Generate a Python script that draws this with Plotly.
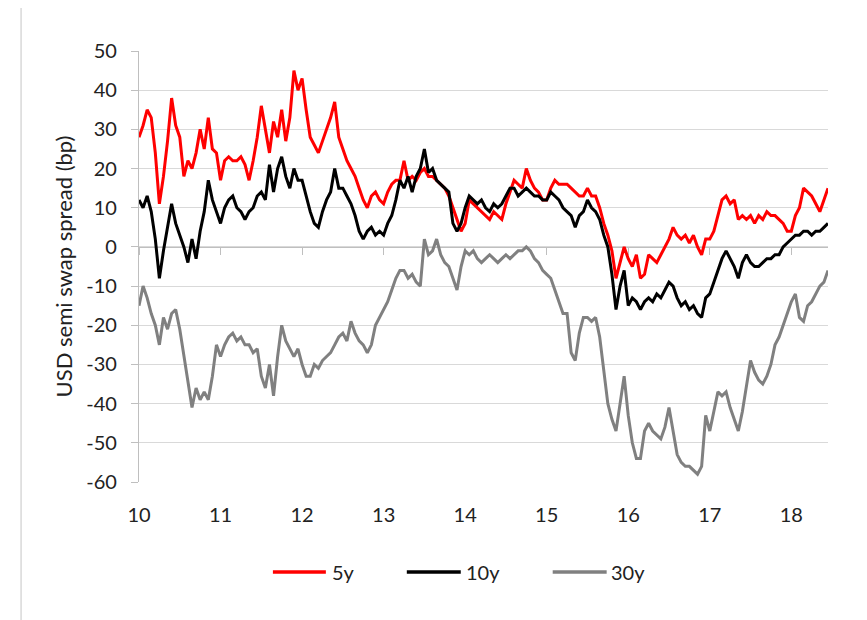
import plotly.graph_objects as go

# ---------------- data (~every 0.05 year) ----------------
spread_5y = [
    28, 31, 35, 33, 24, 11, 18, 27, 38, 31, 28, 18, 22, 20, 24, 30, 25, 33, 25, 24,
    17, 22, 23, 22, 22, 23, 21, 17, 22, 28, 36, 30, 24, 32, 28, 35, 27, 33, 45, 40,
    43, 35, 28, 26, 24, 27, 30, 33, 37, 28, 25, 22, 20, 18, 15, 12, 10, 13, 14, 12,
    11, 14, 16, 17, 17, 22, 17, 18, 17, 19, 20, 18, 18, 17, 16, 15, 13, 10, 7, 4,
    6, 12, 11, 10, 9, 8, 7, 9, 8, 7, 11, 14, 17, 16, 15, 20, 17, 15, 14, 12,
    12, 15, 17, 16, 16, 16, 15, 14, 13, 13, 15, 13, 13, 10, 6, 3, -1, -8, -4, 0,
    -3, -5, -2, -8, -7, -2, -3, -4, -2, 0, 2, 5, 3, 2, 3, 1, 3, 0, -2, 2,
    2, 4, 8, 12, 13, 11, 12, 7, 8, 7, 8, 6, 8, 7, 9, 8, 8, 7, 6, 4,
    4, 8, 10, 15, 14, 13, 11, 9, 12, 15,
]
spread_10y = [
    12, 10, 13, 9, 2, -8, -1, 5, 11, 6, 3, 0, -4, 2, -3, 4, 9, 17, 12, 9,
    6, 10, 12, 13, 10, 9, 7, 9, 10, 13, 14, 12, 21, 14, 20, 23, 18, 15, 20, 17,
    17, 13, 9, 6, 5, 9, 12, 14, 20, 15, 15, 13, 11, 8, 4, 2, 4, 5, 3, 4,
    3, 6, 8, 12, 17, 15, 18, 14, 18, 20, 25, 19, 20, 17, 16, 15, 14, 6, 4, 6,
    10, 13, 12, 11, 12, 10, 9, 11, 10, 11, 13, 15, 15, 13, 14, 15, 14, 13, 13, 12,
    12, 14, 13, 12, 10, 9, 8, 5, 8, 9, 12, 10, 9, 7, 3, 0, -7, -16, -10, -6,
    -15, -13, -14, -16, -14, -13, -14, -12, -13, -11, -9, -10, -13, -15, -14, -16, -15, -17, -18, -13,
    -12, -9, -6, -3, -1, -3, -5, -8, -4, -2, -4, -5, -5, -4, -3, -3, -2, -2, 0, 1,
    2, 3, 3, 4, 4, 3, 4, 4, 5, 6,
]
spread_30y = [
    -15, -10, -13, -17, -20, -25, -18, -21, -17, -16, -21, -28, -35, -41, -36, -39, -37, -39, -33, -25,
    -28, -25, -23, -22, -24, -23, -25, -25, -27, -26, -33, -36, -30, -38, -28, -20, -24, -26, -28, -26,
    -30, -33, -33, -30, -31, -29, -28, -27, -25, -23, -22, -24, -19, -22, -24, -25, -27, -25, -20, -18,
    -16, -14, -11, -8, -6, -6, -8, -7, -9, -10, 2, -2, -1, 2, -2, -4, -5, -8, -11, -5,
    -1, -2, -1, -3, -4, -3, -2, -3, -4, -3, -2, -3, -2, -1, -1, 0, -1, -3, -4, -6,
    -7, -8, -11, -14, -17, -17, -27, -29, -22, -18, -18, -19, -18, -23, -32, -40, -44, -47, -40, -33,
    -43, -50, -54, -54, -47, -45, -47, -48, -49, -46, -41, -47, -53, -55, -56, -56, -57, -58, -56, -43,
    -47, -42, -37, -38, -37, -41, -44, -47, -42, -35, -29, -32, -34, -35, -33, -30, -25, -23, -20, -17,
    -14, -12, -18, -19, -15, -14, -12, -10, -9, -6,
]
series_names = ["5y", "10y", "30y"]
series_colors = ["#ff0000", "#000000", "#808080"]
x_tick_vals = [10, 11, 12, 13, 14, 15, 16, 17, 18]
x_tick_text = ["10", "11", "12", "13", "14", "15", "16", "17", "18"]
y_tick_vals = [-60, -50, -40, -30, -20, -10, 0, 10, 20, 30, 40, 50]
y_tick_text = ["-60", "-50", "-40", "-30", "-20", "-10", "0", "10", "20", "30", "40", "50"]
y_title = "USD semi swap spread (bp)"

# time axis: years since 2000, sampled every 0.05 year
years = [round(10 + 0.05 * i, 2) for i in range(len(spread_5y))]

# ---------------- layout geometry ----------------
W, H = 867, 620
OFF = 8  # page body margin: the figure is drawn 8px in from the window edge
# target plot area in window pixels
PL, PR, PT, PB = 139, 828.5, 51, 482
ML = PL - OFF
MT = PT - OFF
MR = W - (PR - OFF)
MB = H - (PB - OFF)
PW = W - ML - MR
PH = H - MT - MB
X_RANGE = [10, 18.45]
Y_RANGE = [-60, 50]
FONT = "Lato"
TXT = "#222222"


def px_x(px):
    """window pixel -> paper x"""
    return (px - OFF - ML) / PW


def px_y(py):
    """window pixel -> paper y"""
    return (H - MB - (py - OFF)) / PH


fig = go.Figure()
for name, vals, col in zip(series_names, [spread_5y, spread_10y, spread_30y], series_colors):
    fig.add_trace(go.Scatter(
        x=years, y=vals, mode="lines", name=name,
        line=dict(color=col, width=3), showlegend=False,
        xaxis="x2" if name == "30y" else "x",
    ))

shapes = [
    # outer chart frame
    dict(type="rect", xref="paper", yref="paper",
         x0=px_x(21), x1=px_x(890), y0=px_y(5), y1=px_y(650),
         line=dict(color="#d9d9d9", width=1.5), fillcolor="rgba(0,0,0,0)", layer="below"),
]
annotations = []
# legend (drawn as line swatches + text)
leg_y = 572
leg_items = [(273, 326, 330), (407, 461, 464), (553, 607, 609)]
for (x0, x1, xt), name, col in zip(leg_items, series_names, series_colors):
    shapes.append(dict(type="line", xref="paper", yref="paper",
                       x0=px_x(x0), x1=px_x(x1), y0=px_y(leg_y), y1=px_y(leg_y),
                       line=dict(color=col, width=3.5)))
    annotations.append(dict(xref="paper", yref="paper", x=px_x(xt), y=px_y(leg_y),
                            text=name, showarrow=False, xanchor="left", yanchor="middle",
                            font=dict(family=FONT, size=20, color=TXT)))

fig.update_layout(
    width=W, height=H,
    margin=dict(l=ML, r=MR, t=MT, b=MB, autoexpand=False),
    paper_bgcolor="white", plot_bgcolor="white",
    showlegend=False,
    font=dict(family=FONT, size=20, color=TXT),
    xaxis=dict(
        range=X_RANGE, tickvals=x_tick_vals, ticktext=x_tick_text,
        showgrid=False, showline=False, zeroline=False, ticks="",
        tickfont=dict(family=FONT, size=20, color=TXT),
        ticklabelstandoff=19, automargin=False,
    ),
    xaxis2=dict(
        range=X_RANGE, overlaying="x", matches="x", anchor="free",
        position=(0 - Y_RANGE[0]) / (Y_RANGE[1] - Y_RANGE[0]), side="bottom",
        tickvals=x_tick_vals, showticklabels=False,
        showgrid=False, zeroline=False,
        showline=True, linecolor="#bfbfbf", linewidth=1.2,
        ticks="outside", ticklen=7, tickcolor="#bfbfbf", tickwidth=1.2,
        layer="below traces", automargin=False,
    ),
    yaxis=dict(
        range=Y_RANGE, tickvals=y_tick_vals, ticktext=y_tick_text,
        showgrid=True, gridcolor="#d9d9d9", gridwidth=1.3,
        zeroline=False, showline=True, linecolor="#bfbfbf", linewidth=1.2,
        ticks="outside", ticklen=7, tickcolor="#bfbfbf", tickwidth=1.2,
        tickfont=dict(family=FONT, size=20, color=TXT),
        ticklabelstandoff=10,
        title=dict(text=y_title, font=dict(family=FONT, size=22, color=TXT), standoff=7),
        layer="below traces", automargin=False,
    ),
    shapes=shapes,
    annotations=annotations,
)

fig.write_html("out.html")
